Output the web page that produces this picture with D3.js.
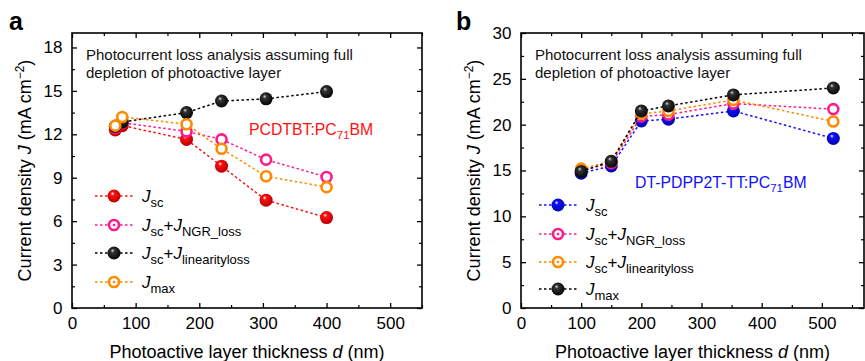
<!DOCTYPE html>
<html>
<head>
<meta charset="utf-8">
<script src="https://cdn.jsdelivr.net/npm/d3@7"></script>
<style>
  body { margin: 0; background: #fff; }
  svg { display: block; font-family: "Liberation Sans", Arial, sans-serif; }
</style>
</head>
<body>
<svg id="chart" width="865" height="361"></svg>
<script>
// panel a : PCDTBT:PC71BM
const thicknessA = [68, 79, 180, 235, 305, 400];
const jscA = [12.3, 12.6, 11.65, 9.8, 7.45, 6.25];
const jscNgrA = [12.45, 12.8, 12.2, 11.65, 10.25, 9.05];
const jscLinA = [12.55, 12.85, 13.5, 14.3, 14.45, 14.95];
const jmaxA = [12.6, 13.2, 12.7, 11.0, 9.1, 8.35];

// panel b : DT-PDPP2T-TT:PC71BM
const thicknessB = [100, 150, 200, 245, 353, 519];
const jscB = [14.7, 15.5, 20.4, 20.6, 21.5, 18.5];
const jscNgrB = [15.0, 15.8, 20.9, 21.1, 22.3, 21.7];
const jscLinB = [15.2, 16.0, 21.2, 21.5, 22.7, 20.35];
const jmaxB = [14.9, 16.0, 21.5, 22.05, 23.25, 24.0];

const xTicksA = [0, 100, 200, 300, 400, 500];
const yTicksA = [0, 3, 6, 9, 12, 15, 18];
const xTicksB = [0, 100, 200, 300, 400, 500];
const yTicksB = [0, 5, 10, 15, 20, 25, 30];

const RED = "#ff1010", PINK = "#ff1a8c", ORANGE = "#ff8a00", BLACK = "#000", BLUE = "#1010ff";

// legend labels: [text, kind]  kind: "i" italic, "s" subscript, "n" normal
const LBL_JSC = [["J", "i"], ["sc", "s"]];
const LBL_NGR = [["J", "i"], ["sc", "s"], ["+", "n"], ["J", "i"], ["NGR_loss", "s"]];
const LBL_LIN = [["J", "i"], ["sc", "s"], ["+", "n"], ["J", "i"], ["linearityloss", "s"]];
const LBL_MAX = [["J", "i"], ["max", "s"]];

const svg = d3.select("#chart");
const defs = svg.append("defs");

// glossy ball gradients
function ballGradient(id, hi, color, dark) {
    const g = defs.append("radialGradient")
        .attr("id", id)
        .attr("cx", "45%").attr("cy", "45%").attr("r", "60%")
        .attr("fx", "38%").attr("fy", "30%");
    g.append("stop").attr("offset", "0%").attr("stop-color", hi);
    g.append("stop").attr("offset", "25%").attr("stop-color", color);
    g.append("stop").attr("offset", "100%").attr("stop-color", dark);
}
ballGradient("gRed", "#fff", RED, "#b00000");
ballGradient("gBlack", "#ddd", "#333", "#000");
ballGradient("gBlue", "#fff", BLUE, "#0000a0");

function drawPanel(p) {
    const g = svg.append("g");
    const x = d3.scaleLinear().domain(p.xDomain).range([p.left, p.right]);
    const y = d3.scaleLinear().domain(p.yDomain).range([p.bottom, p.top]);

    // ticks on all four sides, pointing inward
    const minorX = d3.range(p.xDomain[0], p.xDomain[1] + 1, p.xStep / 2).filter(v => v % p.xStep !== 0);
    const minorY = d3.range(p.yDomain[0], p.yDomain[1] + 0.01, p.yStep / 2).filter(v => Math.abs(v % p.yStep) > 1e-6);

    const axes = [
        [d3.axisBottom(x).tickValues(p.xTicks).tickSize(-5).tickPadding(9), `translate(0,${p.bottom})`],
        [d3.axisTop(x).tickValues(p.xTicks).tickSize(-5).tickFormat(""), `translate(0,${p.top})`],
        [d3.axisLeft(y).tickValues(p.yTicks).tickSize(-5).tickPadding(9.5), `translate(${p.left},0)`],
        [d3.axisRight(y).tickValues(p.yTicks).tickSize(-5).tickFormat(""), `translate(${p.right},0)`]
    ];
    axes.forEach(([ax, tr]) => {
        const a = g.append("g").attr("transform", tr).call(ax);
        a.select(".domain").remove();
        a.selectAll("line").attr("stroke", "#000").attr("stroke-width", 1.3);
        a.selectAll("text").attr("font-size", 17).attr("fill", "#000")
            .attr("font-family", "Liberation Sans, Arial, sans-serif");
    });
    const minorAxes = [
        [d3.axisBottom(x).tickValues(minorX), `translate(0,${p.bottom})`],
        [d3.axisTop(x).tickValues(minorX), `translate(0,${p.top})`],
        [d3.axisLeft(y).tickValues(minorY), `translate(${p.left},0)`],
        [d3.axisRight(y).tickValues(minorY), `translate(${p.right},0)`]
    ];
    minorAxes.forEach(([ax, tr]) => {
        const a = g.append("g").attr("transform", tr)
            .call(ax.tickSize(-3).tickFormat(""));
        a.select(".domain").remove();
        a.selectAll("line").attr("stroke", "#000").attr("stroke-width", 1.2);
    });

    g.append("rect")
        .attr("x", p.left).attr("y", p.top)
        .attr("width", p.right - p.left).attr("height", p.bottom - p.top)
        .attr("fill", "none").attr("stroke", "#000").attr("stroke-width", 1.6);

    // axis titles
    g.append("text")
        .attr("x", (p.left + p.right) / 2).attr("y", 358)
        .attr("text-anchor", "middle").attr("font-size", 18)
        .call(t => {
            t.append("tspan").text("Photoactive layer thickness ");
            t.append("tspan").attr("font-style", "italic").text("d");
            t.append("tspan").text(" (nm)");
        });
    g.append("text")
        .attr("transform", `translate(${p.yTitleX},${(p.top + p.bottom) / 2}) rotate(-90)`)
        .attr("text-anchor", "middle").attr("font-size", 18)
        .call(t => {
            t.append("tspan").text("Current density ");
            t.append("tspan").attr("font-style", "italic").text("J");
            t.append("tspan").text(" (mA cm");
            t.append("tspan").attr("font-size", 12).attr("dy", -7).text("\u22122");
            t.append("tspan").attr("dy", 7).text(")");
        });

    // panel letter
    g.append("text").attr("x", p.letterX).attr("y", 30)
        .attr("font-size", 25).attr("font-weight", "bold").text(p.letter);

    // annotation
    const note = g.append("text").attr("font-size", 15).attr("fill", "#111");
    note.append("tspan").attr("x", p.left + 14).attr("y", 60).text("Photocurrent loss analysis assuming full");
    note.append("tspan").attr("x", p.left + 14).attr("y", 78).text("depletion of photoactive layer");

    // material label
    const mat = g.append("text").attr("x", p.matX).attr("y", p.matY)
        .attr("font-size", 15.8).attr("fill", p.matColor);
    mat.append("tspan").text(p.material[0]);
    mat.append("tspan").attr("font-size", 11.5).attr("dy", 4).text(p.material[1]);
    mat.append("tspan").attr("dy", -4).text(p.material[2]);

    // series
    const line = d3.line().x(d => x(d[0])).y(d => y(d[1]));
    function marker(sel, s, cx, cy, dot) {
        if (s.filled) {
            sel.append("circle").attr("cx", cx).attr("cy", cy).attr("r", 6.5)
                .attr("fill", `url(#${s.grad})`);
        } else {
            sel.append("circle").attr("cx", cx).attr("cy", cy).attr("r", 5)
                .attr("fill", "#fff").attr("stroke", s.color).attr("stroke-width", 2.6);
            if (dot) {
                sel.append("circle").attr("cx", cx).attr("cy", cy).attr("r", 1.3).attr("fill", s.color);
            }
        }
    }
    p.series.forEach(s => {
        const pts = d3.zip(p.xs, s.values);
        g.append("path").attr("d", line(pts))
            .attr("fill", "none").attr("stroke", s.color)
            .attr("stroke-width", 1.5).attr("stroke-dasharray", "2.5,2.5");
        pts.forEach(d => marker(g, s, x(d[0]), y(d[1]), false));
    });

    // legend
    p.series.forEach((s, i) => {
        const ly = p.legendY[i];
        g.append("line").attr("x1", p.legendX - 19).attr("x2", p.legendX + 19)
            .attr("y1", ly).attr("y2", ly)
            .attr("stroke", s.color).attr("stroke-width", 1.5).attr("stroke-dasharray", "2.5,2.5");
        marker(g, s, p.legendX, ly, true);
        const t = g.append("text").attr("x", p.legendX + 28).attr("y", ly + 6).attr("font-size", 17);
        let low = false;
        s.label.forEach(([txt, kind]) => {
            const ts = t.append("tspan").text(txt);
            if (kind === "s") {
                ts.attr("font-size", 13).attr("dy", low ? 0 : 5);
                low = true;
            } else {
                ts.attr("font-size", 17).attr("dy", low ? -5 : 0)
                    .attr("font-style", kind === "i" ? "italic" : "normal");
                low = false;
            }
        });
    });
}

drawPanel({
    letter: "a", letterX: 9,
    left: 72, right: 422, top: 33, bottom: 308,
    xDomain: [0, 550], yDomain: [0, 19], xStep: 100, yStep: 3,
    xTicks: xTicksA, yTicks: yTicksA,
    yTitleX: 31,
    material: ["PCDTBT:PC", "71", "BM"], matX: 249, matY: 135, matColor: "#ff1010",
    xs: thicknessA,
    series: [
        { values: jscA, color: RED, filled: true, grad: "gRed", label: LBL_JSC },
        { values: jscNgrA, color: PINK, filled: false, label: LBL_NGR },
        { values: jscLinA, color: BLACK, filled: true, grad: "gBlack", label: LBL_LIN },
        { values: jmaxA, color: ORANGE, filled: false, label: LBL_MAX }
    ],
    legendX: 114, legendY: [196, 225, 253, 282]
});

drawPanel({
    letter: "b", letterX: 456,
    left: 521, right: 864, top: 33, bottom: 308,
    xDomain: [0, 570], yDomain: [0, 30], xStep: 100, yStep: 5,
    xTicks: xTicksB, yTicks: yTicksB,
    yTitleX: 480,
    material: ["DT-PDPP2T-TT:PC", "71", "BM"], matX: 635, matY: 188, matColor: "#1010ff",
    xs: thicknessB,
    series: [
        { values: jscB, color: BLUE, filled: true, grad: "gBlue", label: LBL_JSC },
        { values: jscNgrB, color: PINK, filled: false, label: LBL_NGR },
        { values: jscLinB, color: ORANGE, filled: false, label: LBL_LIN },
        { values: jmaxB, color: BLACK, filled: true, grad: "gBlack", label: LBL_MAX }
    ],
    legendX: 558, legendY: [205, 234, 262, 289]
});
</script>
</body>
</html>
